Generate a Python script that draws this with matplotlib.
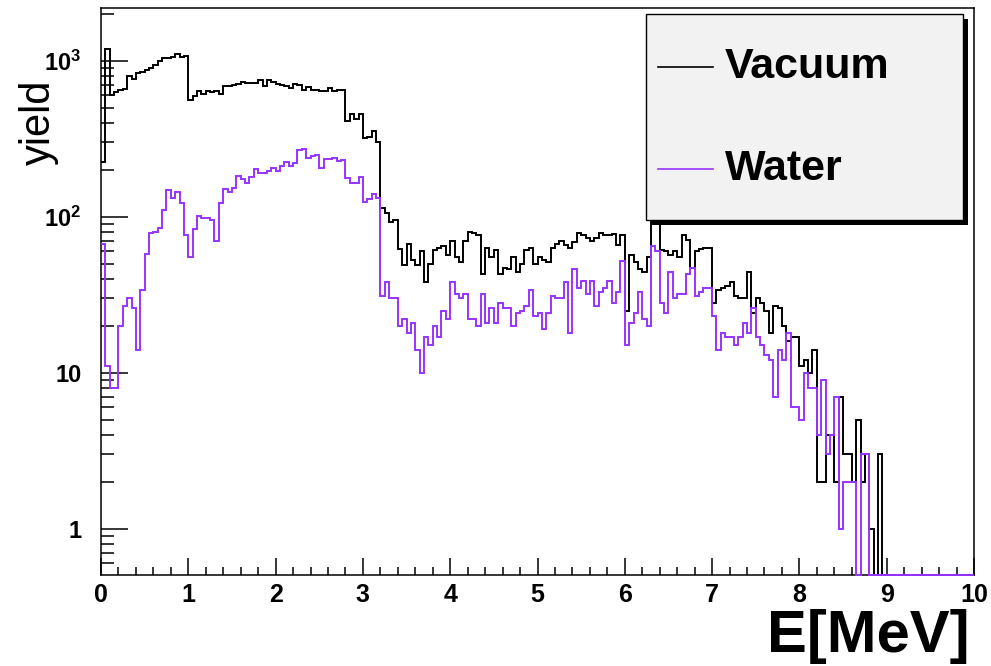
import numpy as np
import matplotlib
matplotlib.use("Agg")
import matplotlib.pyplot as plt
from matplotlib.patches import Rectangle
from matplotlib.lines import Line2D
from matplotlib.ticker import MultipleLocator, LogLocator, NullFormatter

plt.rcParams['font.family'] = ['Liberation Sans', 'DejaVu Sans']
plt.rcParams['mathtext.fontset'] = 'custom'
plt.rcParams['mathtext.rm'] = 'Liberation Sans'
plt.rcParams['mathtext.bf'] = 'Liberation Sans:bold'

# Histogram binning: 200 bins of 0.05 MeV between 0 and 10 MeV
E_MIN, E_MAX, N_BINS = 0.0, 10.0, 200

series_names = ["Vacuum", "Water"]
series_colors = ["#000000", "#9933ff"]

# Bin contents (counts per 0.05 MeV bin)
vacuum = [
    225, 1200, 608, 632, 648, 664, 801, 763, 841, 849,
    879, 901, 937, 995, 1045, 1045, 1060, 1113, 1060, 1076,
    559, 596, 642, 617, 642, 632, 642, 611, 691, 691,
    698, 716, 733, 722, 722, 722, 751, 688, 751, 733,
    716, 705, 688, 671, 716, 698, 654, 681, 654, 648,
    642, 642, 671, 642, 654, 654, 412, 459, 427, 459,
    318, 326, 354, 302, 114, 106, 93, 95, 62, 49,
    67, 53, 49, 60, 38, 50, 61, 63, 65, 57,
    70, 55, 51, 70, 80, 79, 77, 43, 63, 55,
    61, 43, 47, 46, 55, 44, 50, 61, 63, 50,
    55, 53, 51, 63, 67, 70, 66, 63, 69, 79,
    76, 73, 70, 73, 79, 77, 77, 78, 66, 76,
    25, 57, 51, 46, 44, 55, 130, 115, 61, 60,
    57, 60, 55, 76, 71, 47, 60, 62, 63, 63,
    28, 34, 35, 36, 38, 31, 30, 30, 44, 24,
    30, 28, 25, 18, 27, 26, 20, 16, 17, 17,
    11, 12, 10, 14, 2, 2, 4, 4, 2, 7,
    3, 3, 2, 5, 2, 3, 1, 0, 3, 0,
    0, 0, 0, 0, 0, 0, 0, 0, 0, 0,
    0, 0, 0, 0, 0, 0, 0, 0, 0, 0,
]

water = [
    67, 11, 8, 8, 20, 27, 30, 26, 14, 34,
    58, 79, 80, 85, 111, 148, 132, 145, 123, 76,
    55, 83, 101, 99, 99, 95, 70, 122, 150, 145,
    152, 182, 174, 166, 180, 202, 192, 192, 197, 206,
    197, 212, 225, 212, 223, 267, 271, 237, 245, 251,
    206, 234, 234, 240, 227, 231, 178, 166, 166, 180,
    125, 131, 141, 132, 31, 38, 30, 30, 20, 22,
    18, 21, 14, 10, 17, 15, 20, 17, 25, 22,
    38, 32, 30, 32, 22, 22, 20, 32, 21, 26,
    21, 28, 26, 26, 20, 24, 25, 27, 34, 23,
    24, 19, 24, 31, 30, 30, 38, 18, 46, 35,
    39, 32, 39, 27, 33, 35, 39, 28, 33, 52,
    15, 21, 24, 33, 22, 20, 65, 60, 28, 24,
    44, 30, 32, 32, 43, 47, 31, 33, 35, 35,
    23, 14, 18, 17, 17, 15, 17, 21, 18, 26,
    17, 15, 13, 12, 7, 14, 12, 18, 6, 6,
    5, 10, 8, 8, 4, 9, 3, 4, 7, 1,
    2, 2, 2, 0, 3, 3, 0, 0, 0, 0,
    0, 0, 0, 0, 0, 0, 0, 0, 0, 0,
    0, 0, 0, 0, 0, 0, 0, 0, 0, 0,
]

x_ticks = [0, 1, 2, 3, 4, 5, 6, 7, 8, 9, 10]
x_tick_labels = ["0", "1", "2", "3", "4", "5", "6", "7", "8", "9", "10"]
y_ticks = [1, 10, 100, 1000]
y_tick_labels = ["1", "10", r"$\mathbf{10^{2}}$", r"$\mathbf{10^{3}}$"]

x_title = "E[MeV]"
y_title = "yield"

W, H = 991, 666
fig = plt.figure(figsize=(W / 100, H / 100), dpi=100)
fig.patch.set_facecolor("white")


def fx(px):
    return px / W


def fy(py):
    return 1 - py / H


ax = fig.add_axes([fx(101), fy(575), (974 - 101) / W, (575 - 7.5) / H])

y_lo, y_hi = 0.505, 2200
edges = np.linspace(E_MIN, E_MAX, N_BINS + 1)

# empty bins sit on the lower frame edge on the log scale
for vals, color in zip([vacuum, water], series_colors):
    v = np.asarray(vals, dtype=float)
    v = np.where(v > 0, v, y_lo)
    ax.stairs(v, edges, baseline=None, color=color, lw=1.4,
              zorder=3, clip_on=False)

ax.set_xlim(E_MIN, E_MAX)
ax.set_yscale("log")
ax.set_ylim(y_lo, y_hi)

ax.set_xticks(x_ticks)
ax.set_xticklabels(x_tick_labels, fontweight="bold")
ax.xaxis.set_minor_locator(MultipleLocator(0.2))
ax.set_yticks(y_ticks)
ax.set_yticklabels(y_tick_labels, fontweight="bold")
ax.yaxis.set_minor_locator(LogLocator(base=10, subs=np.arange(2, 10), numticks=20))
ax.yaxis.set_minor_formatter(NullFormatter())

ax.tick_params(axis="x", which="major", direction="in", length=12.2, width=1.1,
               labelsize=18, pad=5.5)
ax.tick_params(axis="x", which="minor", direction="in", length=5.5, width=1.1)
ax.tick_params(axis="y", which="major", direction="in", length=19.4, width=1.1,
               labelsize=17, pad=14)
ax.tick_params(axis="y", which="minor", direction="in", length=9.4, width=1.1)
for s in ax.spines.values():
    s.set_linewidth(1.1)

fig.text(fx(39), fy(122), y_title, rotation=90, ha="center", va="center",
         fontsize=30)
fig.text(fx(970), fy(637), x_title, ha="right", va="center",
         fontsize=43, fontweight="bold")

# Legend box with drop shadow
lx0, ly0, lx1, ly1 = 646, 14, 963, 220
shadow = Rectangle((fx(lx0 + 5), fy(ly1 + 5)), (lx1 - lx0) / W, (ly1 - ly0) / H,
                   transform=fig.transFigure, facecolor="black",
                   edgecolor="none", zorder=5)
box = Rectangle((fx(lx0), fy(ly1)), (lx1 - lx0) / W, (ly1 - ly0) / H,
                transform=fig.transFigure, facecolor="#f2f2f2",
                edgecolor="black", lw=1.0, zorder=6)
fig.add_artist(shadow)
fig.add_artist(box)
for name, color, yrow in zip(series_names, series_colors, [67, 169]):
    fig.add_artist(Line2D([fx(658), fx(713)], [fy(yrow), fy(yrow)],
                          transform=fig.transFigure, color=color, lw=1.2,
                          zorder=7))
    fig.text(fx(725), fy(yrow), name, ha="left", va="center",
             fontsize=31, fontweight="bold", zorder=7)

fig.savefig("out.png", dpi=100)
